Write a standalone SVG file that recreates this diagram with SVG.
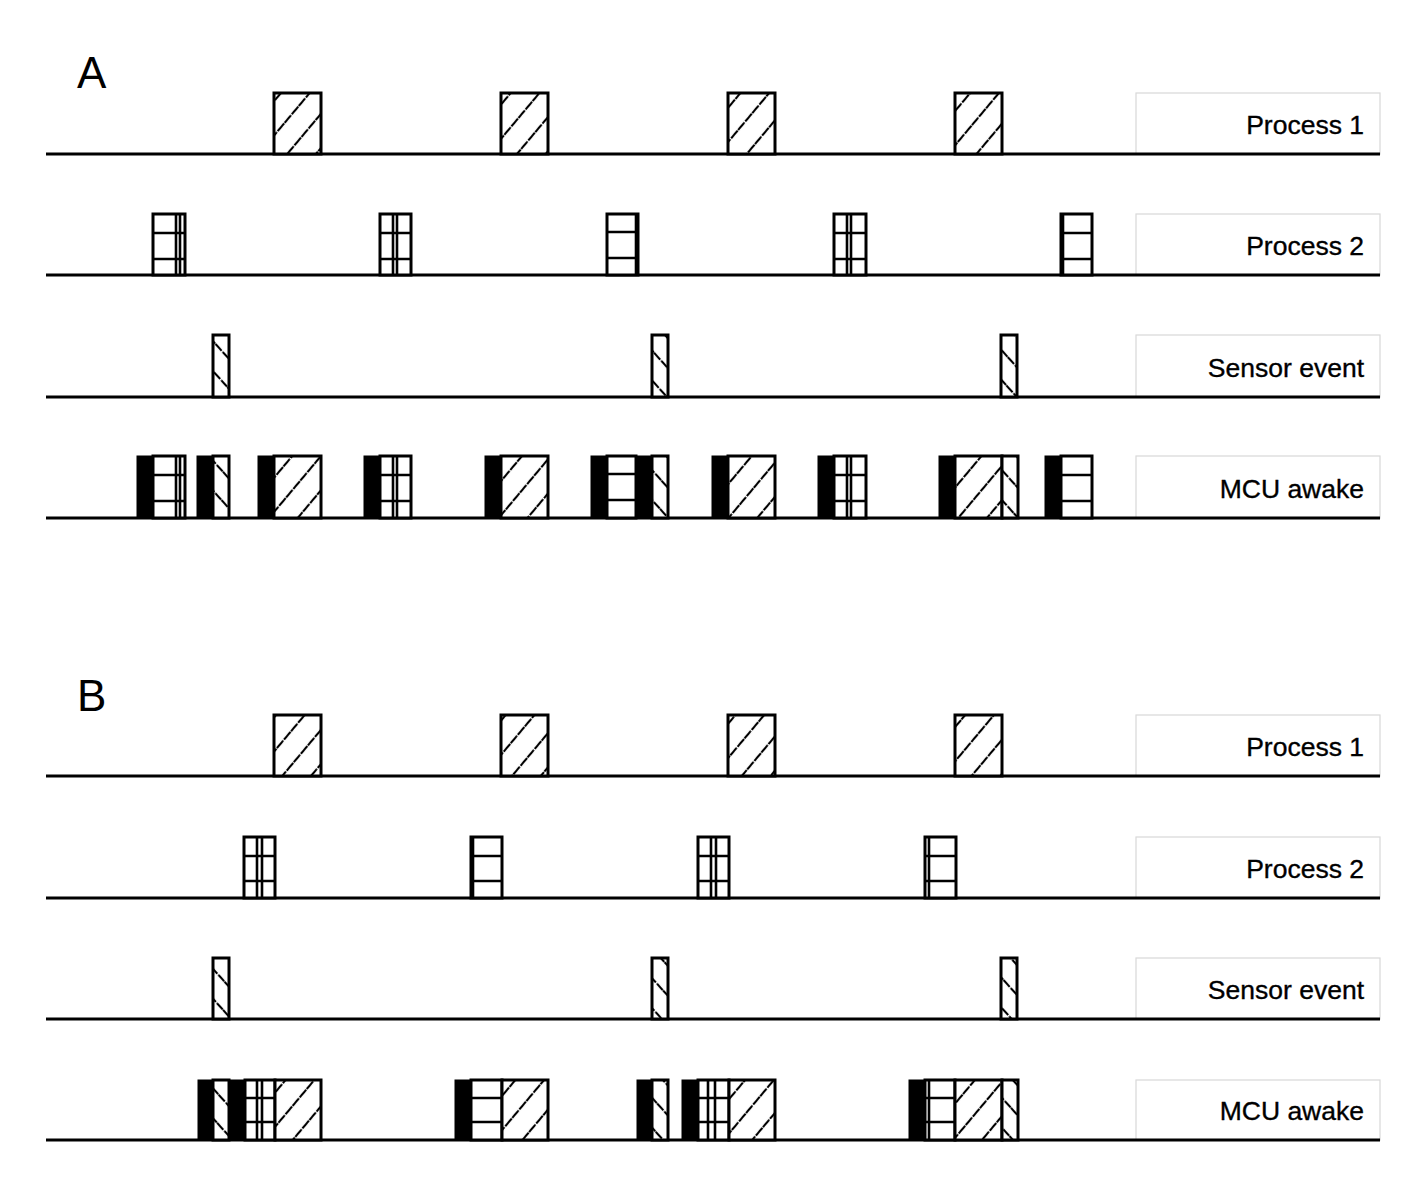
<svg xmlns="http://www.w3.org/2000/svg" width="1417" height="1185" viewBox="0 0 1417 1185">
<style>
.bg{fill:#fff}
.seg{stroke:#000;stroke-width:3}
.p1{fill:url(#hatchP1)}
.se{fill:url(#hatchS)}
.wh{fill:#fff}
.blk{fill:#000;stroke:#000;stroke-width:1}
.gl{stroke:#000;stroke-width:2.6;fill:none}
.axis{stroke:#000;stroke-width:3;fill:none}
.lbox{fill:#fff;stroke:#d8d8d8;stroke-width:1.2}
.lbl{font-family:"Liberation Sans",Arial,sans-serif;font-size:26.5px;fill:#000;stroke:#000;stroke-width:0.35;text-anchor:end}
.big{font-family:"Liberation Sans",Arial,sans-serif;font-size:44px;fill:#000}
</style>
<defs>
<pattern id="hatchP1" patternUnits="userSpaceOnUse" width="22" height="22" patternTransform="rotate(40)">
<rect width="22" height="22" fill="#fff"/>
<line x1="11" y1="0" x2="11" y2="22" stroke="#000" stroke-width="2.1" stroke-dasharray="10 1.2"/>
</pattern>
<pattern id="hatchS" patternUnits="userSpaceOnUse" width="20" height="20" patternTransform="rotate(-42)">
<rect width="20" height="20" fill="#fff"/>
<line x1="10" y1="0" x2="10" y2="20" stroke="#000" stroke-width="2.1" stroke-dasharray="9 1.5"/>
</pattern>
</defs>
<rect class="bg" width="1417" height="1185"/>
<text class="big" x="77" y="88">A</text>
<text class="big" x="77" y="711">B</text>

<g id="labels">
<g id="lA1"><rect class="lbox" x="1136" y="93" width="244" height="61"/><text class="lbl" x="1364" y="133.5">Process 1</text></g>
<g id="lA2"><rect class="lbox" x="1136" y="214" width="244" height="61"/><text class="lbl" x="1364" y="254.5">Process 2</text></g>
<g id="lA3"><rect class="lbox" x="1136" y="335" width="244" height="62"/><text class="lbl" x="1364" y="376.5">Sensor event</text></g>
<g id="lA4"><rect class="lbox" x="1136" y="456" width="244" height="62"/><text class="lbl" x="1364" y="497.5">MCU awake</text></g>
<g id="lB1"><rect class="lbox" x="1136" y="715" width="244" height="61"/><text class="lbl" x="1364" y="755.5">Process 1</text></g>
<g id="lB2"><rect class="lbox" x="1136" y="837" width="244" height="61"/><text class="lbl" x="1364" y="877.5">Process 2</text></g>
<g id="lB3"><rect class="lbox" x="1136" y="958" width="244" height="61"/><text class="lbl" x="1364" y="998.5">Sensor event</text></g>
<g id="lB4"><rect class="lbox" x="1136" y="1080" width="244" height="60"/><text class="lbl" x="1364" y="1119.5">MCU awake</text></g>
</g>

<g id="axes">
<line class="axis" x1="46" y1="154" x2="1380" y2="154"/>
<line class="axis" x1="46" y1="275" x2="1380" y2="275"/>
<line class="axis" x1="46" y1="397" x2="1380" y2="397"/>
<line class="axis" x1="46" y1="518" x2="1380" y2="518"/>
<line class="axis" x1="46" y1="776" x2="1380" y2="776"/>
<line class="axis" x1="46" y1="898" x2="1380" y2="898"/>
<line class="axis" x1="46" y1="1019" x2="1380" y2="1019"/>
<line class="axis" x1="46" y1="1140" x2="1380" y2="1140"/>
</g>

<!-- Panel A -->
<g id="A-process1">
<rect class="seg p1" x="274" y="93" width="47" height="61"/>
<rect class="seg p1" x="501" y="93" width="47" height="61"/>
<rect class="seg p1" x="728" y="93" width="47" height="61"/>
<rect class="seg p1" x="955" y="93" width="47" height="61"/>
</g>
<g id="A-process2">
<rect class="seg wh" x="153" y="214" width="32" height="61"/><path class="gl" d="M153 233H185M153 259H185M176 214V275M180 214V275"/>
<rect class="seg wh" x="380" y="214" width="31" height="61"/><path class="gl" d="M380 233H411M380 259H411M393 214V275M397 214V275"/>
<rect class="seg wh" x="607" y="214" width="31" height="61"/><path class="gl" d="M607 232H638M607 258H638"/><path class="gl" d="M636 214V275" stroke-width="3"/>
<rect class="seg wh" x="834" y="214" width="32" height="61"/><path class="gl" d="M834 233H866M834 259H866M847 214V275M851 214V275"/>
<rect class="seg wh" x="1061" y="214" width="31" height="61"/><path class="gl" d="M1061 233H1092M1061 259H1092"/><path class="gl" d="M1063 214V275" stroke-width="3"/>
</g>
<g id="A-sensor">
<rect class="seg se" x="213" y="335" width="16" height="62"/>
<rect class="seg se" x="652" y="335" width="16" height="62"/>
<rect class="seg se" x="1001" y="335" width="16" height="62"/>
</g>
<g id="A-mcu">
<rect class="blk" x="137" y="456" width="16" height="62"/>
<rect class="seg wh" x="153" y="456" width="32" height="62"/><path class="gl" d="M153 475H185M153 501H185M176 456V518M180 456V518"/>
<rect class="blk" x="197" y="456" width="16" height="62"/>
<rect class="seg se" x="213" y="456" width="16" height="62"/>
<rect class="blk" x="258" y="456" width="16" height="62"/>
<rect class="seg p1" x="274" y="456" width="47" height="62"/>
<rect class="blk" x="364" y="456" width="16" height="62"/>
<rect class="seg wh" x="380" y="456" width="31" height="62"/><path class="gl" d="M380 475H411M380 501H411M393 456V518M397 456V518"/>
<rect class="blk" x="485" y="456" width="16" height="62"/>
<rect class="seg p1" x="501" y="456" width="47" height="62"/>
<rect class="blk" x="591" y="456" width="16" height="62"/>
<rect class="seg wh" x="607" y="456" width="29" height="62"/><path class="gl" d="M607 474H636M607 500H636"/>
<rect class="blk" x="636" y="456" width="16" height="62"/>
<rect class="seg se" x="652" y="456" width="16" height="62"/>
<rect class="blk" x="712" y="456" width="16" height="62"/>
<rect class="seg p1" x="728" y="456" width="47" height="62"/>
<rect class="blk" x="818" y="456" width="16" height="62"/>
<rect class="seg wh" x="834" y="456" width="32" height="62"/><path class="gl" d="M834 475H866M834 501H866M847 456V518M851 456V518"/>
<rect class="blk" x="939" y="456" width="16" height="62"/>
<rect class="seg p1" x="955" y="456" width="47" height="62"/>
<rect class="seg se" x="1002" y="456" width="16" height="62"/>
<rect class="blk" x="1045" y="456" width="16" height="62"/>
<rect class="seg wh" x="1061" y="456" width="31" height="62"/><path class="gl" d="M1061 475H1092M1061 501H1092"/>
</g>

<!-- Panel B -->
<g id="B-process1">
<rect class="seg p1" x="274" y="715" width="47" height="61"/>
<rect class="seg p1" x="501" y="715" width="47" height="61"/>
<rect class="seg p1" x="728" y="715" width="47" height="61"/>
<rect class="seg p1" x="955" y="715" width="47" height="61"/>
</g>
<g id="B-process2">
<rect class="seg wh" x="244" y="837" width="31" height="61"/><path class="gl" d="M244 856H275M244 881H275M257 837V898M262 837V898"/>
<rect class="seg wh" x="471" y="837" width="31" height="61"/><path class="gl" d="M471 856H502M471 881H502"/><path class="gl" d="M473 837V898" stroke-width="3"/>
<rect class="seg wh" x="698" y="837" width="31" height="61"/><path class="gl" d="M698 856H729M698 881H729M711 837V898M716 837V898"/>
<rect class="seg wh" x="925" y="837" width="31" height="61"/><path class="gl" d="M925 856H956M925 881H956M929 837V898"/>
</g>
<g id="B-sensor">
<rect class="seg se" x="213" y="958" width="16" height="61"/>
<rect class="seg se" x="652" y="958" width="16" height="61"/>
<rect class="seg se" x="1001" y="958" width="16" height="61"/>
</g>
<g id="B-mcu">
<rect class="blk" x="198" y="1080" width="15" height="60"/>
<rect class="seg se" x="213" y="1080" width="16" height="60"/>
<rect class="blk" x="229" y="1080" width="16" height="60"/>
<rect class="seg wh" x="245" y="1080" width="30" height="60"/><path class="gl" d="M245 1098H275M245 1122H275M257 1080V1140M262 1080V1140"/>
<rect class="seg p1" x="275" y="1080" width="46" height="60"/>
<rect class="blk" x="455" y="1080" width="16" height="60"/>
<rect class="seg wh" x="471" y="1080" width="31" height="60"/><path class="gl" d="M471 1098H502M471 1122H502"/>
<rect class="seg p1" x="502" y="1080" width="46" height="60"/>
<rect class="blk" x="637" y="1080" width="15" height="60"/>
<rect class="seg se" x="652" y="1080" width="16" height="60"/>
<rect class="blk" x="682" y="1080" width="16" height="60"/>
<rect class="seg wh" x="698" y="1080" width="31" height="60"/><path class="gl" d="M698 1098H729M698 1122H729M708 1080V1140M715 1080V1140"/>
<rect class="seg p1" x="729" y="1080" width="46" height="60"/>
<rect class="blk" x="909" y="1080" width="16" height="60"/>
<rect class="seg wh" x="925" y="1080" width="30" height="60"/><path class="gl" d="M925 1098H955M925 1122H955M929 1080V1140"/>
<rect class="seg p1" x="955" y="1080" width="47" height="60"/>
<rect class="seg se" x="1002" y="1080" width="16" height="60"/>
</g>
</svg>
